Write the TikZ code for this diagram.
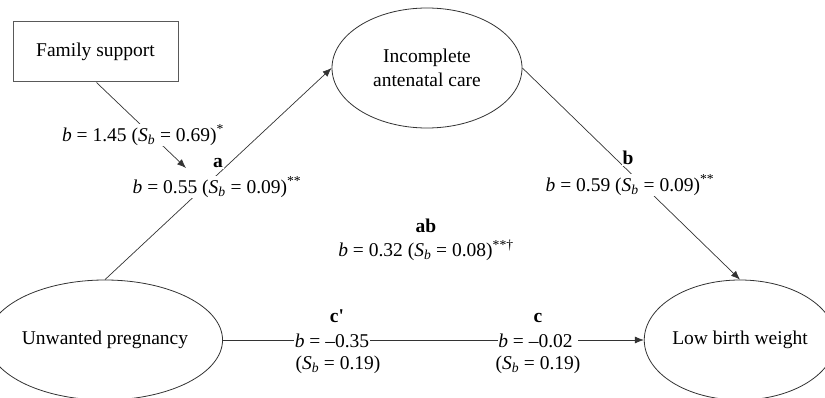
\documentclass[tikz,border=0pt]{standalone}
\usepackage{fontspec}
\setmainfont{Liberation Serif}
\usetikzlibrary{shapes.geometric, arrows.meta, positioning}
\colorlet{lineGray}{black!80}
\newcommand{\coefBS}[2]{\textit{b} = #1 (\textit{S}\textsubscript{\textit{b}} = #2)}
\newcommand{\coefSE}[1]{(\textit{S}\textsubscript{\textit{b}} = #1)}

\begin{document}
\begin{tikzpicture}[x=1pt, y=-1pt,
    font=\fontsize{19.5}{24}\selectfont,
    varNode/.style={ellipse, draw=lineGray, line width=0.8pt, minimum width=190pt,
      minimum height=120pt, inner sep=0pt, align=center},
    boxNode/.style={rectangle, draw=gray!70!black, line width=1pt,
      minimum width=165pt, minimum height=60pt},
    conn/.style={draw=lineGray, line width=0.7pt},
    arr/.style={conn, -{Latex[length=9pt,width=7pt]}},
    coefLbl/.style={fill=white, inner sep=1pt, align=center},
    pathLbl/.style={fill=white, inner sep=1pt, font=\fontsize{19.5}{24}\selectfont\bfseries}]
    \useasboundingbox (0,0) rectangle (825,398);
    % variables
    \node[boxNode] (fam) at (95.5,52) {Family support};
    \node[varNode] (inc) at (427,68) {Incomplete\\antenatal care};
    \node[varNode] (unw) at (105,340) {Unwanted pregnancy};
    \node[varNode] (lbw) at (740,340) {Low birth weight};
    \coordinate (famtip) at (186,168);
    % paths
    \draw[arr] (fam.south) ++(1,0) -- (famtip);
    \draw[arr] (unw.north) -- (inc.west);
    \draw[arr] (inc.east) -- (lbw.north);
    \draw[arr] (unw.east) -- (lbw.west);
    % coefficients
    \node[coefLbl] (lfam) at (143,135) {\coefBS{1.45}{0.69}\textsuperscript{*}};
    \node[pathLbl] (la) at (218,163) {a};
    \node[coefLbl] (la55) at (217,187) {\coefBS{0.55}{0.09}\textsuperscript{**}};
    \node[pathLbl] (lb) at (628,158) {b};
    \node[coefLbl] (lb59) at (630,185) {\coefBS{0.59}{0.09}\textsuperscript{**}};
    \node[align=center] (lab) at (426,240)
      {\textbf{ab}\\\coefBS{0.32}{0.08}\textsuperscript{**\textdagger}};
    \node[coefLbl, inner sep=0.5pt] (lcp) at (332,341) {\textit{b} = –0.35};
    \node[font=\fontsize{19.5}{24}\selectfont\bfseries, above=7pt of lcp, xshift=5pt] (lcpn) {c\textquotesingle};
    \node[below=4pt of lcp.south, xshift=6pt] (lcpse) {\coefSE{0.19}};
    \node[coefLbl, inner sep=0.5pt] (lc) at (538,341) {\textit{b} = –0.02\hspace{5pt}};
    \node[font=\fontsize{19.5}{24}\selectfont\bfseries, above=7pt of lc] (lcn) {c};
    \node[below=4pt of lc.south] (lcse) {\coefSE{0.19}};
  \end{tikzpicture}
\end{document}
